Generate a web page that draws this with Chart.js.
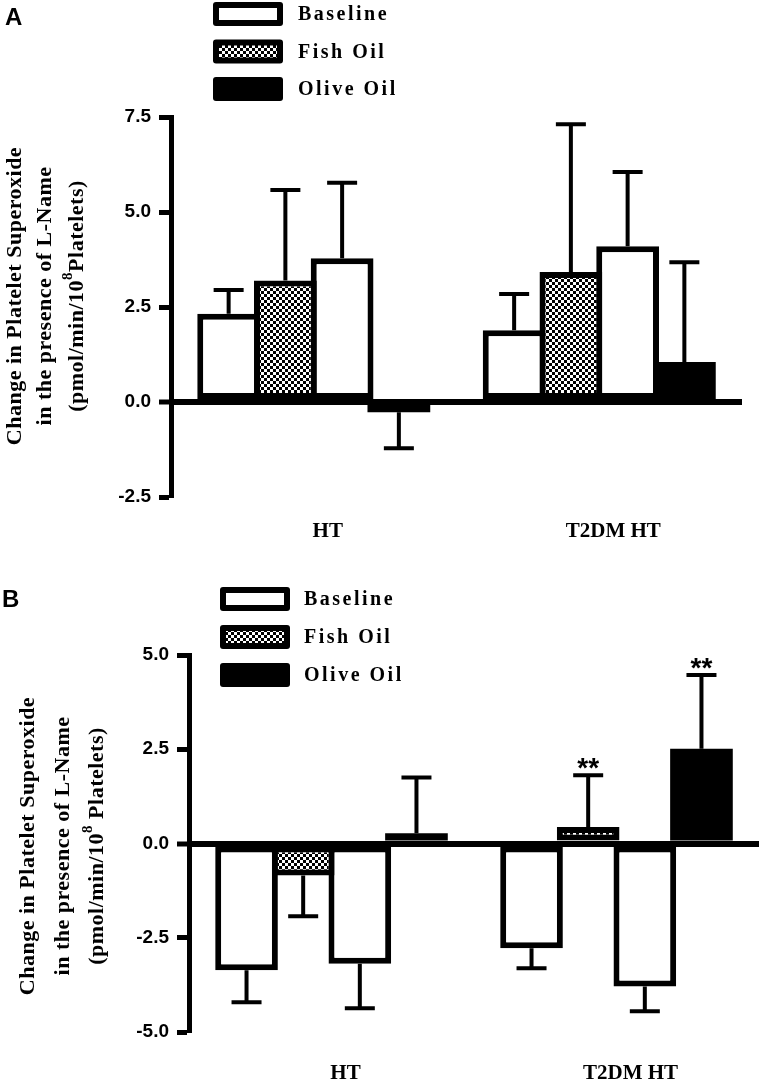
<!DOCTYPE html>
<html>
<head>
<meta charset="utf-8">
<script src="https://cdn.jsdelivr.net/npm/chart.js@4.4.1/dist/chart.umd.min.js"></script>
<style>
html, body { margin: 0; padding: 0; background: #fff; }
.panel { position: relative; width: 761px; }
#panelA { height: 545px; }
#panelB { height: 542px; }
</style>
</head>
<body>
<div class="panel" id="panelA"><canvas id="chartA"></canvas></div>
<div class="panel" id="panelB"><canvas id="chartB"></canvas></div>
<script>
const groups = ['HT', 'T2DM HT'];
const seriesLabels = ['Baseline', 'Fish Oil', 'Baseline', 'Olive Oil'];

// panel A values and upper/lower SEM
const baselineFishA = [2.32, 1.89];
const fishOilA = [3.2, 3.42];
const baselineOliveA = [3.78, 4.1];
const oliveOilA = [-0.27, 1.05];
const baselineFishErrA = [0.63, 0.95];
const fishOilErrA = [2.38, 3.89];
const baselineOliveErrA = [1.99, 1.95];
const oliveOilErrA = [0.95, 2.63];

// panel B
const baselineFishB = [-3.36, -2.78];
const fishOilB = [-0.85, 0.44];
const baselineOliveB = [-3.19, -3.79];
const oliveOilB = [0.27, 2.51];
const baselineFishErrB = [0.85, 0.53];
const fishOilErrB = [1.08, 1.37];
const baselineOliveErrB = [1.18, 0.66];
const oliveOilErrB = [1.48, 1.96];
const fishOilSigB = ['', '**'];
const oliveOilSigB = ['', '**'];

const ticksA = { min: -2.5, max: 7.5, step: 2.5 };
const ticksB = { min: -5, max: 5, step: 2.5 };

const yTitleA = [['Change in Platelet Superoxide', '', ''], ['in the presence of L-Name', '', ''], ['(pmol/min/10', '8', 'Platelets)']];
const yTitleB = [['Change in Platelet Superoxide', '', ''], ['in the presence of L-Name', '', ''], ['(pmol/min/10', '8', ' Platelets)']];

const SERIF = '"Liberation Serif", "Times New Roman", serif';
const SANS = '"Liberation Sans", Arial, sans-serif';

const checker = (function() {
    const c = document.createElement('canvas');
    c.width = 6; c.height = 6;
    const g = c.getContext('2d');
    g.fillStyle = '#fff';
    g.fillRect(0, 0, 6, 6);
    g.fillStyle = '#000';
    g.fillRect(0, 0, 3, 3);
    g.fillRect(3, 3, 3, 3);
    return g.createPattern(c, 'repeat');
})();
const fills = ['#fff', checker, '#fff', '#000'];

// one-sided error bars + significance marks
const errorBars = {
    id: 'errorBars',
    afterDatasetsDraw(chart) {
        const ctx = chart.ctx;
        const y = chart.scales.y;
        ctx.save();
        ctx.strokeStyle = '#000';
        ctx.fillStyle = '#000';
        ctx.lineWidth = 4;
        chart.data.datasets.forEach((ds, i) => {
            const meta = chart.getDatasetMeta(i);
            meta.data.forEach((bar, j) => {
                const v = ds.data[j];
                const e = ds.errors[j];
                const start = y.getPixelForValue(v);
                const end = y.getPixelForValue(v >= 0 ? v + e : v - e);
                ctx.beginPath();
                ctx.moveTo(bar.x, start);
                ctx.lineTo(bar.x, end);
                ctx.moveTo(bar.x - 15, end);
                ctx.lineTo(bar.x + 15, end);
                ctx.stroke();
                if (ds.marks && ds.marks[j]) {
                    ctx.font = 'bold 28px ' + SANS;
                    ctx.textAlign = 'center';
                    ctx.textBaseline = 'alphabetic';
                    ctx.fillText(ds.marks[j], bar.x, end + 2);
                }
            });
        });
        ctx.restore();
    }
};

// panel letter, legend and the y title
const panelDecor = {
    id: 'panelDecor',
    afterDraw(chart, args, o) {
        const ctx = chart.ctx;
        ctx.save();
        ctx.fillStyle = '#000';
        ctx.font = 'bold 24px ' + SANS;
        ctx.textBaseline = 'alphabetic';
        ctx.textAlign = 'left';
        ctx.fillText(o.letter, o.letterX, o.letterY);

        let row = 0;
        chart.data.datasets.forEach(ds => {
            if (ds.inLegend === false) return;
            const bx = o.legendX, by = o.legendY + row * o.legendGap;
            ctx.fillStyle = '#000';
            ctx.beginPath();
            ctx.roundRect(bx, by, 70, 24, 3);
            ctx.fill();
            ctx.fillStyle = ds.backgroundColor;
            ctx.fillRect(bx + 6, by + 6, 58, 12);
            ctx.fillStyle = '#000';
            ctx.font = 'bold 20px ' + SERIF;
            ctx.letterSpacing = '2.5px';
            ctx.textBaseline = 'middle';
            ctx.fillText(ds.label, o.legendTextX, by + 13);
            ctx.letterSpacing = '0px';
            row++;
        });

        ctx.textBaseline = 'middle';
        ctx.textAlign = 'left';
        ctx.letterSpacing = '0.5px';
        o.title.forEach((line, i) => {
            const main = 'bold 22px ' + SERIF, sup = 'bold 15px ' + SERIF;
            ctx.font = main;
            const w1 = ctx.measureText(line[0]).width;
            const w3 = ctx.measureText(line[2]).width;
            ctx.font = sup;
            const w2 = line[1] ? ctx.measureText(line[1]).width : 0;
            let x = -(w1 + w2 + w3) / 2;
            ctx.save();
            ctx.translate(o.titleX[i], o.titleY);
            ctx.rotate(-Math.PI / 2);
            ctx.font = main;
            ctx.fillText(line[0], x, 0);
            x += w1;
            if (line[1]) {
                ctx.font = sup;
                ctx.fillText(line[1], x, -9);
                x += w2;
            }
            ctx.font = main;
            ctx.fillText(line[2], x, 0);
            ctx.restore();
        });
        ctx.restore();
    }
};

function makeChart(id, cfg) {
    const datasets = seriesLabels.map((label, i) => ({
        label: label,
        data: cfg.values[i],
        errors: cfg.errors[i],
        marks: cfg.marks[i],
        inLegend: i !== 2,
        backgroundColor: fills[i],
        borderColor: '#000',
        // solid black bar needs no border (avoids a seam)
        borderWidth: i === 3 ? 0 : 6,
        borderSkipped: false,
        categoryPercentage: 0.795,
        barPercentage: 1.106
    }));
    return new Chart(document.getElementById(id), {
        type: 'bar',
        data: { labels: groups, datasets: datasets },
        options: {
            responsive: true,
            maintainAspectRatio: false,
            animation: false,
            layout: { padding: { left: 0, right: cfg.padRight, top: cfg.padTop, bottom: 0 } },
            scales: {
                x: {
                    afterFit: s => { s.height = cfg.xHeight; },
                    grid: { display: false, drawTicks: false },
                    border: { display: false },
                    ticks: {
                        color: '#000',
                        padding: cfg.xPad,
                        labelOffset: 14,
                        maxRotation: 0,
                        font: { family: SERIF, weight: 'bold', size: 21 }
                    }
                },
                y: {
                    min: cfg.ticks.min,
                    max: cfg.ticks.max,
                    afterFit: s => { s.width = cfg.axisLeft; },
                    border: { display: true, color: '#000', width: 5, z: 1 },
                    grid: {
                        z: 1,
                        color: c => (c.tick && c.tick.value === 0) ? '#000' : 'rgba(0,0,0,0)',
                        lineWidth: c => (c.tick && c.tick.value === 0) ? 6 : 1,
                        tickColor: '#000',
                        tickWidth: 5,
                        tickLength: 12
                    },
                    ticks: {
                        stepSize: cfg.ticks.step,
                        padding: 8,
                        color: '#000',
                        font: { family: SANS, weight: 'bold', size: 19 },
                        callback: v => v.toFixed(1)
                    }
                }
            },
            plugins: {
                legend: { display: false },
                tooltip: { enabled: false },
                panelDecor: cfg.decor
            }
        },
        plugins: [errorBars, panelDecor]
    });
}

makeChart('chartA', {
    values: [baselineFishA, fishOilA, baselineOliveA, oliveOilA],
    errors: [baselineFishErrA, fishOilErrA, baselineOliveErrA, oliveOilErrA],
    marks: [null, null, null, null],
    ticks: ticksA,
    padTop: 117, padRight: 19, xHeight: 48, xPad: 22, axisLeft: 171,
    decor: {
        letter: 'A', letterX: 5, letterY: 25,
        legendX: 213, legendY: 2, legendGap: 37.5, legendTextX: 298,
        title: yTitleA, titleX: [15, 45, 77], titleY: 296
    }
});

makeChart('chartB', {
    values: [baselineFishB, fishOilB, baselineOliveB, oliveOilB],
    errors: [baselineFishErrB, fishOilErrB, baselineOliveErrB, oliveOilErrB],
    marks: [null, fishOilSigB, null, oliveOilSigB],
    ticks: ticksB,
    padTop: 110, padRight: 2, xHeight: 55, xPad: 29, axisLeft: 189,
    decor: {
        letter: 'B', letterX: 2, letterY: 62,
        legendX: 220, legendY: 42, legendGap: 38, legendTextX: 304,
        title: yTitleB, titleX: [28, 63, 97], titleY: 301
    }
});
</script>
</body>
</html>
